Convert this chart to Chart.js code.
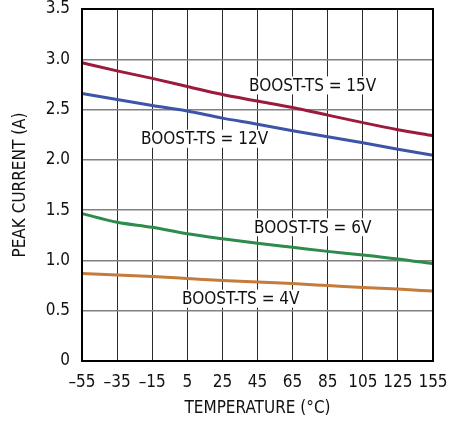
<!DOCTYPE html>
<html>
<head>
<meta charset="utf-8">
<script src="https://cdn.jsdelivr.net/npm/chart.js@4/dist/chart.umd.min.js"></script>
<style>
  html, body { margin: 0; padding: 0; background: #fff; }
  #wrap { width: 462px; height: 423px; }
</style>
</head>
<body>
<div id="wrap"><canvas id="chartPeak"></canvas></div>
<script>
const temps = ['–55', '–35', '–15', '5', '25', '45', '65', '85', '105', '125', '155'];
const yTicks = [0, 0.5, 1.0, 1.5, 2.0, 2.5, 3.0, 3.5];

const ts15 = [2.965, 2.885, 2.81, 2.73, 2.65, 2.585, 2.52, 2.445, 2.37, 2.30, 2.24];
const ts12 = [2.66, 2.60, 2.54, 2.485, 2.415, 2.355, 2.29, 2.23, 2.17, 2.105, 2.045];
const ts6 = [1.465, 1.38, 1.33, 1.265, 1.215, 1.17, 1.13, 1.09, 1.055, 1.015, 0.967];
const ts4 = [0.87, 0.855, 0.84, 0.82, 0.80, 0.785, 0.77, 0.75, 0.73, 0.715, 0.695];

const red = '#9c1a3c';
const blue = '#3d55a8';
const green = '#2f8b4d';
const orange = '#c47b3b';
const font = '"DejaVu Sans Condensed", "Liberation Sans Narrow", sans-serif';

// label text + anchor (category index of left edge, value of vertical centre)
const notes = [
    { text: 'BOOST-TS = 15V', at: 4.76, v: 2.74 },
    { text: 'BOOST-TS = 12V', at: 1.68, v: 2.21 },
    { text: 'BOOST-TS = 6V', at: 4.9, v: 1.33 },
    { text: 'BOOST-TS = 4V', at: 2.85, v: 0.62 },
];

const notesPlugin = {
    id: 'notes',
    beforeDatasetsDraw(chart) {
        const { ctx, scales: { x, y } } = chart;
        const step = x.getPixelForValue(1) - x.getPixelForValue(0);
        ctx.save();
        ctx.font = '17px ' + font;
        ctx.textBaseline = 'middle';
        notes.forEach(n => {
            const px = x.getPixelForValue(0) + n.at * step;
            const py = y.getPixelForValue(n.v);
            const w = ctx.measureText(n.text).width;
            ctx.fillStyle = '#fff';
            ctx.fillRect(px - 2, py - 9, w + 4, 18);
            ctx.fillStyle = '#111';
            ctx.fillText(n.text, px, py + 1);
        });
        ctx.restore();
    },
    afterDraw(chart) {
        const { ctx, chartArea: a } = chart;
        ctx.save();
        ctx.strokeStyle = '#000';
        ctx.lineWidth = 2;
        ctx.strokeRect(a.left, a.top, a.right - a.left, a.bottom - a.top);
        ctx.restore();
    }
};

const line = (label, data, color) => ({
    label, data,
    borderColor: color,
    borderWidth: 3,
    pointRadius: 0,
    cubicInterpolationMode: 'monotone',
    fill: false,
});

new Chart(document.getElementById('chartPeak'), {
    type: 'line',
    data: {
        labels: temps,
        datasets: [
            line('BOOST-TS = 15V', ts15, red),
            line('BOOST-TS = 12V', ts12, blue),
            line('BOOST-TS = 6V', ts6, green),
            line('BOOST-TS = 4V', ts4, orange),
        ]
    },
    plugins: [notesPlugin],
    options: {
        responsive: true,
        maintainAspectRatio: false,
        animation: false,
        layout: { padding: { top: 9, right: 29, left: 6, bottom: 0 } },
        plugins: {
            legend: { display: false },
            tooltip: { enabled: false }
        },
        scales: {
            x: {
                offset: false,
                grid: { color: '#2a2a2a', lineWidth: 1, drawTicks: false },
                border: { display: false },
                ticks: { color: '#111', font: { size: 17, family: font }, padding: 11, maxRotation: 0, autoSkip: false },
                title: { display: true, text: 'TEMPERATURE (°C)', color: '#111', font: { size: 17, family: font }, padding: { top: 4 } },
                afterFit: s => { s.height = 62; s.paddingLeft = 0; s.paddingRight = 0; }
            },
            y: {
                min: 0,
                max: 3.5,
                afterBuildTicks: s => { s.ticks = yTicks.map(v => ({ value: v })); },
                grid: { color: '#808080', lineWidth: 1.5, drawTicks: false },
                border: { display: false },
                ticks: {
                    color: '#111',
                    font: { size: 17, family: font },
                    padding: 12,
                    callback: v => v === 0 ? '0' : v.toFixed(1)
                },
                title: { display: true, text: 'PEAK CURRENT (A)', color: '#111', font: { size: 17, family: font }, padding: { bottom: 2 } },
                afterFit: s => { s.width = 76; s.paddingTop = 0; s.paddingBottom = 0; }
            }
        }
    }
});
</script>
</body>
</html>
